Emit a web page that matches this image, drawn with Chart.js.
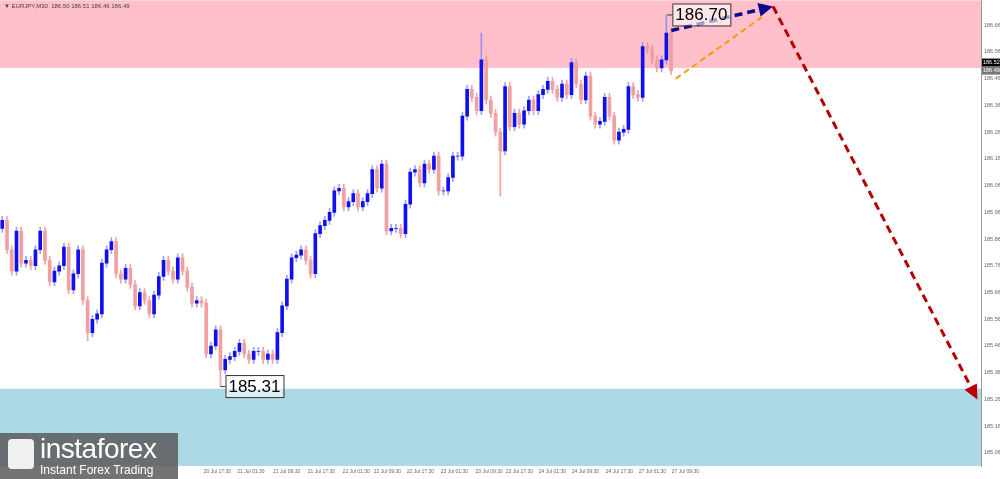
<!DOCTYPE html>
<html><head><meta charset="utf-8">
<script src="https://cdn.jsdelivr.net/npm/chart.js@4.4.1/dist/chart.umd.min.js"></script>
<style>html,body{margin:0;padding:0;background:#fff;overflow:hidden}#wrap{position:relative;width:1000px;height:479px;overflow:hidden}
#c{position:absolute;left:0;top:-4px}
#logo{position:absolute;left:0;top:433px;width:178px;height:46px;background:rgba(90,90,90,0.85);color:#fff;font-family:Arial,"Liberation Sans",sans-serif}
#logo .a{position:absolute;left:40px;top:0px;font-size:28px;letter-spacing:-0.5px}
#logo .b{position:absolute;left:40px;top:30px;font-size:12px}
#logo .i{position:absolute;left:8px;top:6px;width:26px;height:30px;border-radius:4px;background:#fff;opacity:.9}
</style></head><body>
<div id="wrap"><canvas id="c" width="1000" height="483"></canvas>
<div id="logo"><div class="i"></div><div class="a">instaforex</div><div class="b">Instant Forex Trading</div></div></div>
<script>
const closes=[185.93,185.82,185.74,185.89,185.77,185.78,185.76,185.82,185.89,185.78,185.70,185.74,185.76,185.83,185.67,185.73,185.82,185.63,185.51,185.56,185.58,185.77,185.82,185.85,185.73,185.71,185.75,185.69,185.61,185.66,185.63,185.58,185.65,185.72,185.78,185.74,185.71,185.79,185.74,185.68,185.62,185.63,185.62,185.43,185.46,185.52,185.37,185.41,185.42,185.44,185.47,185.43,185.41,185.44,185.44,185.41,185.43,185.41,185.51,185.61,185.71,185.79,185.80,185.82,185.78,185.73,185.88,185.91,185.93,185.96,186.04,186.05,185.98,186.00,186.03,185.98,186.00,186.03,186.12,186.05,186.14,185.89,185.90,185.90,185.88,185.99,186.11,186.12,186.07,186.14,186.12,186.17,186.04,186.04,186.09,186.17,186.17,186.32,186.42,186.39,186.34,186.53,186.38,186.33,186.26,186.19,186.43,186.28,186.33,186.29,186.34,186.38,186.34,186.40,186.42,186.45,186.42,186.39,186.44,186.40,186.52,186.44,186.38,186.47,186.32,186.29,186.30,186.39,186.32,186.23,186.26,186.27,186.43,186.40,186.39,186.58,186.57,186.53,186.50,186.53,186.63,186.49];
const firstOpen=185.90;
const N=closes.length;
const spikeHigh={[closes.indexOf(186.53)]:186.63,[N-2]:186.70};
const spikeLow={[closes.indexOf(185.37)]:185.31,[closes.indexOf(186.19)]:186.02,[closes.indexOf(185.51)]:185.48};
const yTicks=[185.06,185.16,185.26,185.36,185.46,185.56,185.66,185.76,185.86,185.96,186.06,186.16,186.26,186.36,186.46,186.56,186.66];
const timeLabels=["20 Jul 17:30","21 Jul 01:30","21 Jul 09:30","21 Jul 17:30","22 Jul 01:30","22 Jul 09:30","22 Jul 17:30","23 Jul 01:30","23 Jul 09:30","23 Jul 17:30","24 Jul 01:30","24 Jul 09:30","24 Jul 17:30","27 Jul 01:30","27 Jul 09:30"];
// positions in screen-time units (one unit = 1/149 of the data span)
const timeIdx=[47.6,55,62.9,70.6,78.3,85.2,92.5,100,107.7,114.4,121.7,129,136.5,143.8,151.1];
const pinkFrom=186.50, blueTo=185.30;
const lowLabel=185.31, highLabel=186.70;
const fcBlue=[[148,186.64],[170.5,186.73]];
const fcOrange=[[149,186.46],[168,186.69]];
const fcRed=[[170.5,186.73],[215.7,185.26]];
const K=N/149;

const wick=[],body=[],wc=[],bc=[];
closes.forEach((c,i)=>{const o=i?closes[i-1]:firstOpen;
 let h=Math.max(o,c)+0.015,l=Math.min(o,c)-0.015;
 if(spikeHigh[i]!==undefined)h=spikeHigh[i]; if(spikeLow[i]!==undefined)l=spikeLow[i];
 wick.push({x:i,y:[l,h]}); body.push({x:i,y:[o,c]});
 const up=c>=o; wc.push(up?'rgba(120,120,255,0.7)':'rgba(240,140,140,0.8)'); bc.push(up?'#1010ee':'#f0a0a0');});

const overlay={id:'ov',
 beforeDatasetsDraw(ch){const {ctx,chartArea:a,scales:{x,y}}=ch;ctx.save();
  ctx.fillStyle='#ffc0cb';ctx.fillRect(a.left,a.top,a.width,y.getPixelForValue(pinkFrom)-a.top);
  const yb=y.getPixelForValue(blueTo);ctx.fillStyle='#add8e6';ctx.fillRect(a.left,yb,a.width,a.bottom-yb);ctx.restore();},
 afterDatasetsDraw(ch){const {ctx,scales:{x,y}}=ch;ctx.save();
  function arrow(p,col,w,dash,head){const x1=x.getPixelForValue(p[0][0]*K),y1=y.getPixelForValue(p[0][1]),x2=x.getPixelForValue(p[1][0]*K),y2=y.getPixelForValue(p[1][1]);
   ctx.strokeStyle=col;ctx.lineWidth=w;ctx.setLineDash(dash);ctx.beginPath();ctx.moveTo(x1,y1);
   const an=Math.atan2(y2-y1,x2-x1);const ex=head?x2-Math.cos(an)*12:x2,ey=head?y2-Math.sin(an)*12:y2;ctx.lineTo(ex,ey);ctx.stroke();ctx.setLineDash([]);
   if(head){ctx.fillStyle=col;ctx.beginPath();ctx.moveTo(x2,y2);ctx.lineTo(x2-Math.cos(an-0.45)*16,y2-Math.sin(an-0.45)*16);ctx.lineTo(x2-Math.cos(an+0.45)*16,y2-Math.sin(an+0.45)*16);ctx.closePath();ctx.fill();}}
  arrow(fcOrange,'#ff9900',2,[6,4],false);
  arrow(fcBlue,'#0a0a8a',3.5,[8,5],true);
  arrow(fcRed,'#b80000',3,[8,5],true);
  function box(txt,ix,v,off){const px=x.getPixelForValue(ix)+off,py=y.getPixelForValue(v);ctx.font='17px Arial, "Liberation Sans"';const w=ctx.measureText(txt).width+6;
   ctx.fillStyle='rgba(255,255,255,0.6)';ctx.fillRect(px,py-11,w,22);ctx.strokeStyle='#333';ctx.lineWidth=1;ctx.strokeRect(px+0.5,py-10.5,w,22);
   ctx.fillStyle='#000';ctx.textBaseline='middle';ctx.fillText(txt,px+3,py+1);
   ctx.beginPath();ctx.moveTo(px-5,py+0.5);ctx.lineTo(px,py+0.5);ctx.stroke();}
  box(lowLabel.toFixed(2),closes.indexOf(185.37),lowLabel,5);box(highLabel.toFixed(2),N-2,highLabel,6);
  const a=ch.chartArea;ctx.fillStyle='#000';ctx.fillRect(a.right+1,y.getPixelForValue(186.52)-4,19,8);
  ctx.fillStyle='#777';ctx.fillRect(a.right+1,y.getPixelForValue(186.49)-4,19,8);
  ctx.font='5.5px Arial';ctx.fillStyle='#fff';ctx.textBaseline='middle';ctx.fillText('186.52',a.right+2,y.getPixelForValue(186.52));ctx.fillText('186.49',a.right+2,y.getPixelForValue(186.49));
  ctx.font='6px Arial';ctx.fillStyle='#444';ctx.fillText('▼ EURJPY,M30  186.50 186.51 186.46 186.49',4,a.top+6);
  ctx.restore();}};

new Chart(document.getElementById('c'),{type:'bar',
 data:{datasets:[
  {data:wick,backgroundColor:wc,barThickness:1,grouped:false,order:2},
  {data:body,backgroundColor:bc,barThickness:3,grouped:false,order:1}]},
 options:{animation:false,responsive:false,devicePixelRatio:1,layout:{padding:0},
  plugins:{legend:{display:false},tooltip:{enabled:false}},
  scales:{
   x:{type:'linear',offset:false,min:-0.5*K,max:216.5*K,grid:{display:false,tickLength:0},border:{display:false},
    afterBuildTicks(s){s.ticks=timeIdx.map(v=>({value:v*K}));},afterFit(s){s.height=13;},
    ticks:{autoSkip:false,maxRotation:0,font:{size:5},color:'#666',padding:3,callback:(v,i)=>timeLabels[i]}},
   y:{position:'right',min:185.011,max:186.753,grid:{display:false,tickLength:2},border:{color:'#999'},
    afterBuildTicks(s){s.ticks=yTicks.map(v=>({value:v}));},afterFit(s){s.width=19;},
    ticks:{font:{size:5.5},color:'#666',padding:1,callback:v=>v.toFixed(2)}}}},
 plugins:[overlay]});
</script></body></html>
